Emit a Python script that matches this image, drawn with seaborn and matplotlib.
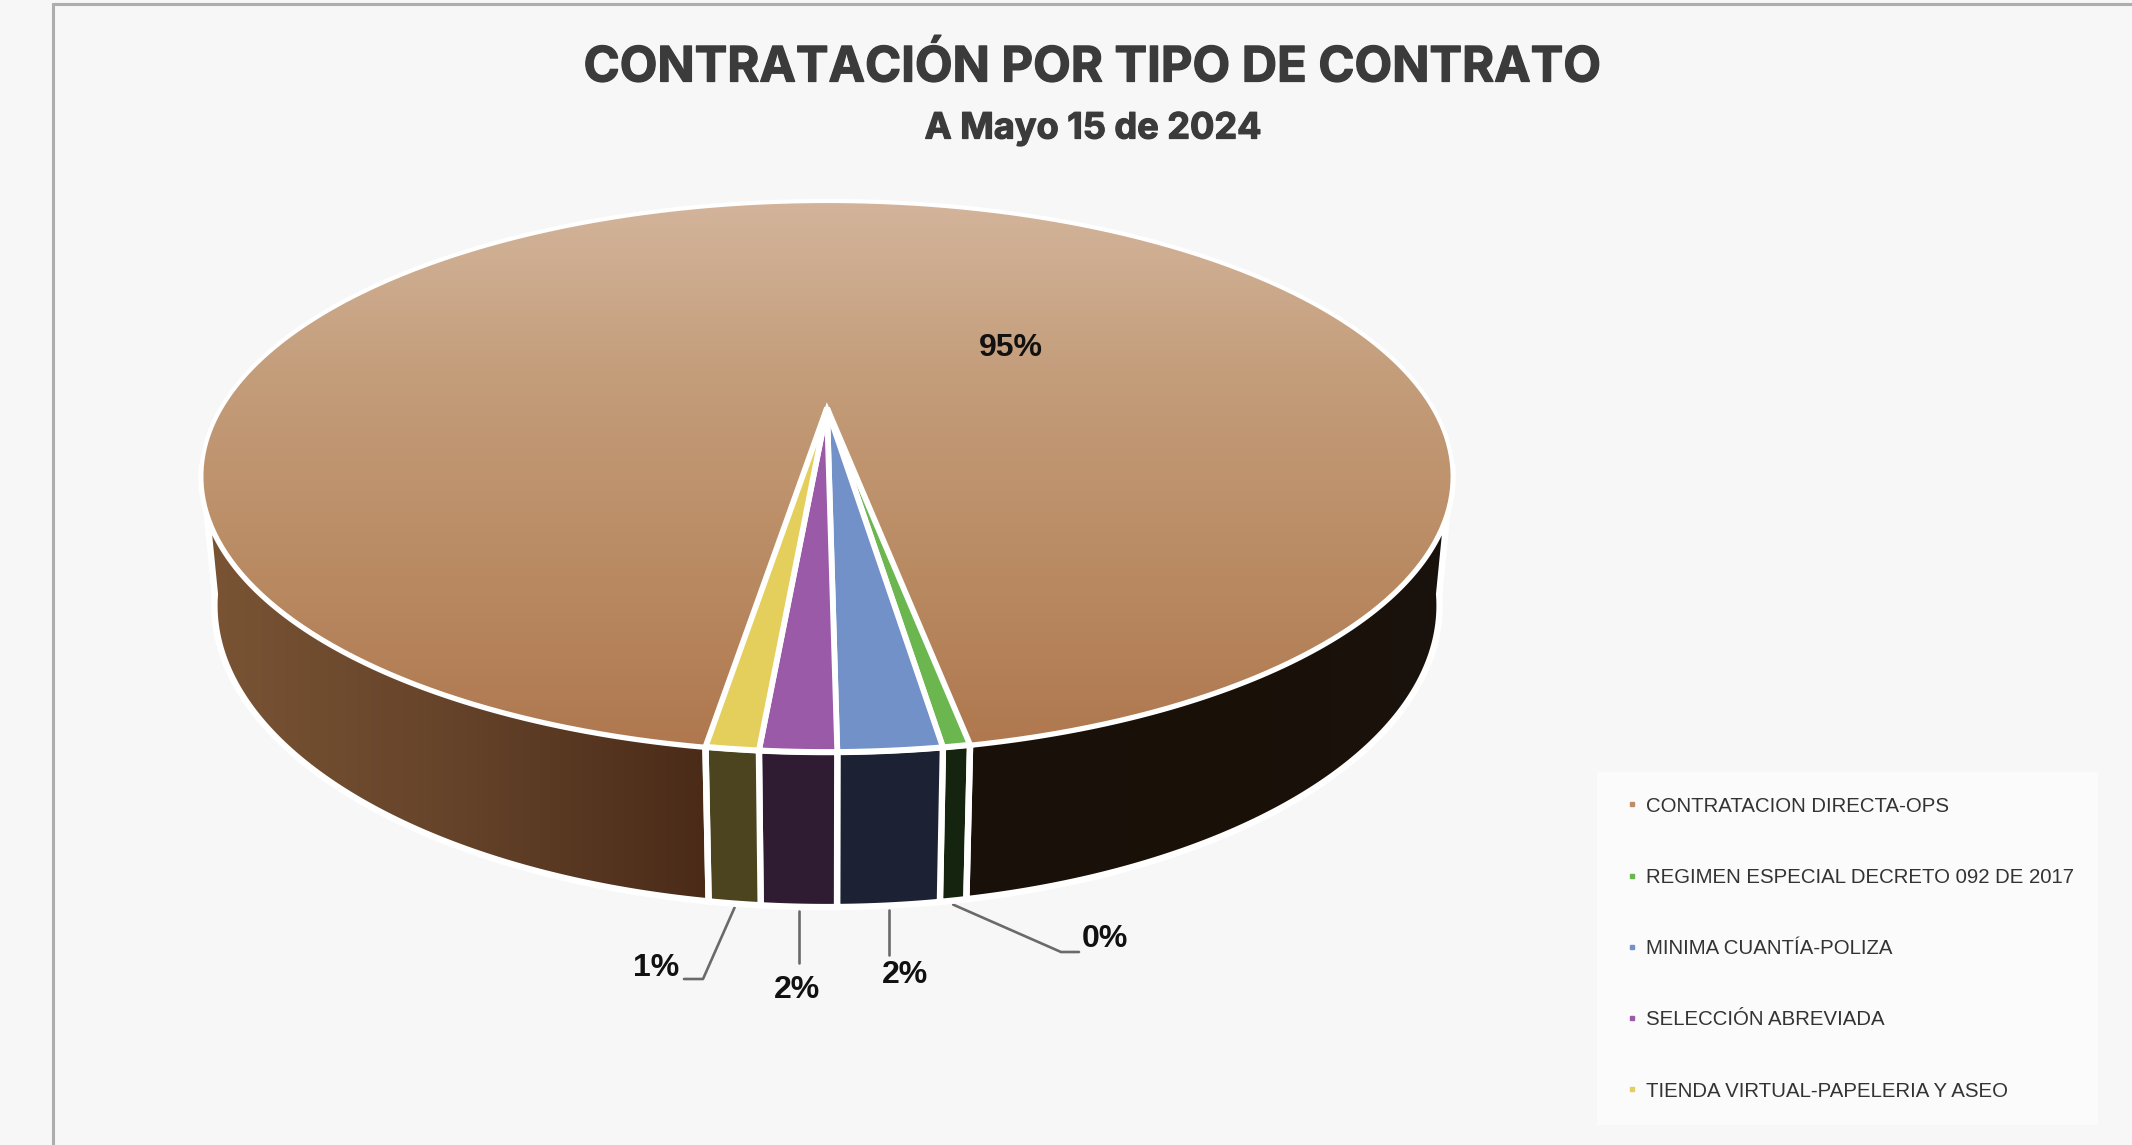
import numpy as np
import seaborn as sns
import matplotlib
matplotlib.use("Agg")
import matplotlib.pyplot as plt
import matplotlib.patheffects as pe
from matplotlib.lines import Line2D
from matplotlib.path import Path
from matplotlib.patches import Polygon
from matplotlib.transforms import Affine2D, Transform

# data
categories = ["CONTRATACION DIRECTA-OPS", "REGIMEN ESPECIAL DECRETO 092 DE 2017",
              "MINIMA CUANTÍA-POLIZA", "SELECCIÓN ABREVIADA",
              "TIENDA VIRTUAL-PAPELERIA Y ASEO"]
values = [94.73, 0.55, 2.1, 1.55, 1.07]
pct_labels = ["95%", "0%", "2%", "2%", "1%"]
colors = ["#bd8f68", "#6cb64f", "#7391c9", "#9a5aa8", "#e5cf5c"]
wall_colors = ["#1a110b", "#14240f", "#1c2233", "#2f1c33", "#4c431f"]

W, H = 2132, 1145
BG = "#f7f7f7"

# camera of the tilted pie, in pixels
CX, APEX_Y = 827, 408
A, B, K = 606, 258.5, 0.2486
DEPTH, SHRINK = 126.5, 0.02
# the side wall is cut off between these rim angles, the rest hides behind the top
WALL_LEFT, WALL_RIGHT = 192, 348


def project(u, v, z=0.0):
    w = 1 + K * v + SHRINK * z
    return CX + A * u / w, APEX_Y + (DEPTH * z - B * v) / w


class Tilt(Transform):
    input_dims = output_dims = 2

    def transform_non_affine(self, xy):
        x, y = project(xy[:, 0], xy[:, 1])
        return np.column_stack([x, y])

    def transform_path_non_affine(self, path):
        # flatten the arcs first so the curve survives the projection
        big = path.transformed(Affine2D().scale(3000))
        verts = big.to_polygons(closed_only=False)[0] / 3000
        return Path(self.transform_non_affine(verts))


def wall_poly(t1, t2):
    t = np.radians(np.linspace(t1, t2, 120))
    xt, yt = project(np.cos(t), np.sin(t))
    xb, yb = project(np.cos(t), np.sin(t), 1.0)
    return np.column_stack([np.r_[xt, xb[::-1]], np.r_[yt, yb[::-1]]])


sns.set_theme(style="white")
plt.rcParams["font.family"] = ["Inter", "Liberation Sans", "DejaVu Sans"]

fig = plt.figure(figsize=(W / 100, H / 100), dpi=100, facecolor=BG)
ax = fig.add_axes([0, 0, 1, 1], facecolor=BG)

wedges, _ = ax.pie(values, colors=colors, startangle=-98.7, counterclock=False,
                   wedgeprops=dict(edgecolor="white", linewidth=4.2, zorder=5))
wedges[0].set_linewidth(3.0)
tilt = Tilt() + ax.transData
for w in wedges:
    w.set_transform(tilt)

# gradient on the big slice
top_grad = np.array(sns.blend_palette(["#d4b69d", "#c39c79", "#b98a62", "#ae754c"], 256))[:, None, :]
im = ax.imshow(top_grad, extent=(190, 1470, 770, 190), aspect="auto", zorder=4)
im.set_clip_path(wedges[0])
wedges[0].set_facecolor("none")

# walls of the small slices
for w, c in zip(wedges[1:], wall_colors[1:]):
    ax.add_patch(Polygon(wall_poly(w.theta1, w.theta2), facecolor=c, edgecolor="white",
                         linewidth=4.6, zorder=3))

# walls of the big slice: two parts with own shading
parts = [
    (WALL_LEFT, wedges[-1].theta1 % 360, ["#7a5434", "#65432a", "#4a2b18"]),
    (wedges[1].theta2 % 360, WALL_RIGHT, ["#1a110b", "#191008", "#1a120c"]),
]
for t1, t2, shade in parts:
    poly = Polygon(wall_poly(t1, t2), facecolor="none", edgecolor="white", linewidth=4.6, zorder=3)
    ax.add_patch(poly)
    xy = poly.get_xy()
    grad = np.array(sns.blend_palette(shade, 256))[None, :, :]
    wall = ax.imshow(grad, extent=(xy[:, 0].min(), xy[:, 0].max(), 1000, 400),
                     aspect="auto", zorder=2)
    wall.set_clip_path(poly)

ax.set_xlim(0, W)
ax.set_ylim(H, 0)
ax.set_aspect("auto")
ax.axis("on")
ax.set_xticks([])
ax.set_yticks([])
for s in ax.spines.values():
    s.set_visible(False)

# frame of the chart area
ax.plot([53, 53, W], [H, 4, 4], color="#aeaeae", lw=2.2, zorder=1, solid_joinstyle="miter")

# titles
heavy = [pe.withStroke(linewidth=0.9, foreground="#3b3b3b")]
ax.text(1092, 68, "CONTRATACIÓN POR TIPO DE CONTRATO", ha="center", va="center",
        fontsize=35.2, fontweight="bold", color="#3b3b3b", path_effects=heavy)
ax.text(1093, 129, "A Mayo 15 de 2024", ha="center", va="center",
        fontsize=26, fontweight="bold", color="#3b3b3b", path_effects=heavy)

# percent labels with leader lines
label_pos = [(1011, 348), (1105, 939), (905, 975), (797, 990), (656, 968)]
elbows = [None, [(1061, 952), (1079, 952)], [(889, 955)], [(797, 963)], [(703, 979), (684, 979)]]
for w, txt, pos, elbow in zip(wedges, pct_labels, label_pos, elbows):
    ax.text(pos[0], pos[1], txt, ha="center", va="center", fontsize=23, fontweight="bold",
            family="Liberation Sans", color="#111111", zorder=6)
    if elbow is None:
        continue
    mid = np.radians((w.theta1 + w.theta2) / 2)
    x0, y0 = project(np.cos(mid), np.sin(mid), 1.0)
    pts = [(x0, y0 + 4)] + [(e[0] if i or len(elbow) > 1 else x0, e[1]) for i, e in enumerate(elbow)]
    ax.plot([p[0] for p in pts], [p[1] for p in pts], color="#6a6a6a", lw=1.9, zorder=2)

# legend
handles = [Line2D([], [], linestyle="none", marker="s", markersize=2.2, color=c) for c in colors]
leg = ax.legend(handles, categories, loc="upper left", bbox_to_anchor=(1597 / W, 1 - 772 / H),
                frameon=True, facecolor="#fbfbfb", edgecolor="none", fancybox=False,
                fontsize=14.7, labelcolor="#333333", labelspacing=2.56, handletextpad=0.15,
                handlelength=1.03, borderpad=1.2, borderaxespad=0, framealpha=1)
for t in leg.get_texts():
    t.set_fontfamily(["Liberation Sans"])
leg.set_zorder(7)

fig.savefig("out.png", dpi=100, facecolor=BG)
